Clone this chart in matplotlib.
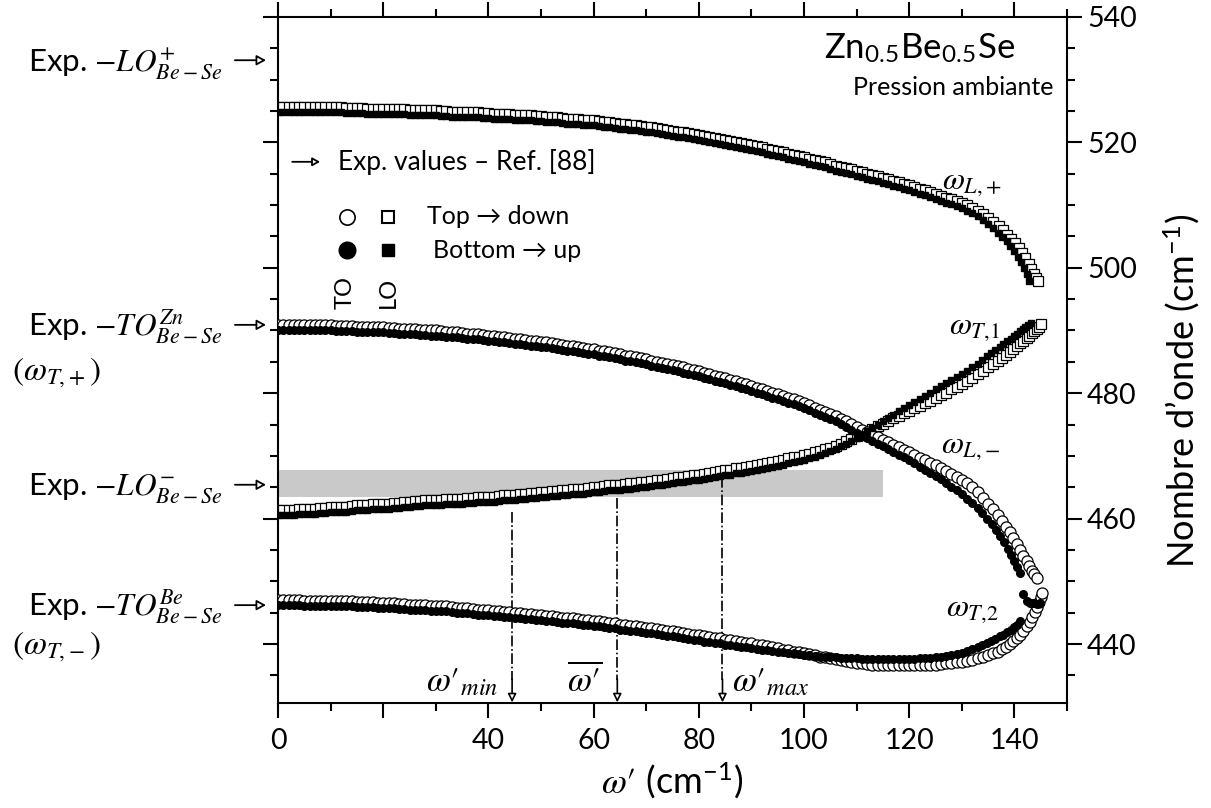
import matplotlib
matplotlib.use('Agg')
import matplotlib.pyplot as plt
from matplotlib.ticker import MultipleLocator

plt.rcParams['font.family'] = ['Lato', 'DejaVu Sans']
plt.rcParams['mathtext.fontset'] = 'stix'

# x positions (omega', cm-1) shared by the body of every branch
w_grid = [0, 1, 2, 3, 4, 5, 6, 7, 8, 9,
          10, 11, 12, 13, 14, 15, 16, 17, 18, 19,
          20, 21, 22, 23, 24, 25, 26, 27, 28, 29,
          30, 31, 32, 33, 34, 35, 36, 37, 38, 39,
          40, 41, 42, 43, 44, 45, 46, 47, 48, 49,
          50, 51, 52, 53, 54, 55, 56, 57, 58, 59,
          60, 61, 62, 63, 64, 65, 66, 67, 68, 69,
          70, 71, 72, 73, 74, 75, 76, 77, 78, 79,
          80, 81, 82, 83, 84, 85, 86, 87, 88, 89,
          90, 91, 92, 93, 94, 95, 96, 97, 98, 99,
          100, 101, 102, 103, 104, 105, 106, 107, 108, 109,
          110, 111, 112, 113, 114, 115, 116, 117, 118, 119,
          120, 121, 122, 123, 124, 125, 126, 127, 128, 129,
          130]

# LO+ branch (squares)
lo_plus_open = [525.6, 525.6, 525.6, 525.6, 525.6, 525.6, 525.6, 525.6, 525.6, 525.6,
                525.6, 525.6, 525.6, 525.5, 525.5, 525.5, 525.5, 525.4, 525.4, 525.4,
                525.4, 525.3, 525.3, 525.3, 525.3, 525.2, 525.2, 525.1, 525.1, 525.1,
                525.1, 525.0, 525.0, 524.9, 524.9, 524.9, 524.9, 524.8, 524.8, 524.7,
                524.7, 524.6, 524.6, 524.5, 524.5, 524.4, 524.4, 524.3, 524.3, 524.2,
                524.2, 524.1, 524.0, 524.0, 523.9, 523.8, 523.8, 523.7, 523.6, 523.5,
                523.5, 523.4, 523.3, 523.2, 523.1, 523.0, 522.9, 522.8, 522.7, 522.6,
                522.5, 522.4, 522.3, 522.1, 522.0, 521.8, 521.7, 521.6, 521.5, 521.3,
                521.2, 521.0, 520.9, 520.7, 520.6, 520.4, 520.2, 520.1, 519.9, 519.7,
                519.6, 519.4, 519.2, 519.0, 518.8, 518.6, 518.4, 518.2, 518.0, 517.8,
                517.6, 517.4, 517.2, 517.0, 516.8, 516.5, 516.3, 516.1, 515.9, 515.7,
                515.5, 515.2, 515.0, 514.8, 514.6, 514.3, 514.1, 513.9, 513.7, 513.4,
                513.2, 512.9, 512.6, 512.4, 512.1, 511.8, 511.5, 511.2, 510.9, 510.6,
                510.3]
lo_plus_fill = [524.8, 524.8, 524.8, 524.8, 524.8, 524.8, 524.8, 524.8, 524.8, 524.8,
                524.8, 524.8, 524.8, 524.7, 524.7, 524.7, 524.7, 524.6, 524.6, 524.6,
                524.6, 524.5, 524.5, 524.5, 524.5, 524.4, 524.4, 524.3, 524.3, 524.3,
                524.3, 524.2, 524.2, 524.1, 524.1, 524.1, 524.1, 524.0, 524.0, 523.9,
                523.9, 523.8, 523.8, 523.7, 523.7, 523.6, 523.6, 523.5, 523.5, 523.4,
                523.4, 523.3, 523.2, 523.2, 523.1, 523.0, 523.0, 522.9, 522.8, 522.7,
                522.7, 522.6, 522.5, 522.4, 522.3, 522.2, 522.1, 522.0, 521.9, 521.8,
                521.7, 521.6, 521.5, 521.3, 521.2, 521.0, 520.9, 520.8, 520.7, 520.5,
                520.4, 520.2, 520.1, 519.9, 519.8, 519.6, 519.4, 519.3, 519.1, 518.9,
                518.8, 518.6, 518.4, 518.2, 518.0, 517.8, 517.6, 517.4, 517.2, 517.0,
                516.8, 516.6, 516.4, 516.2, 516.0, 515.7, 515.5, 515.3, 515.1, 514.9,
                514.7, 514.4, 514.2, 514.0, 513.8, 513.5, 513.3, 513.1, 512.9, 512.6,
                512.4, 512.1, 511.8, 511.6, 511.3, 511.0, 510.7, 510.4, 510.1, 509.8,
                509.5]
lo_plus_open_tx = [131, 132, 133, 134, 135, 136, 137, 137.8, 138.6, 139.4, 140.1, 140.8,
                   141.5, 142.1, 142.7, 143.2, 143.7, 144.1, 144.5]
lo_plus_open_ty = [510.0, 509.6, 509.1, 508.6, 508.0, 507.3, 506.6, 506.0, 505.3, 504.6, 503.9, 503.1,
                   502.3, 501.5, 500.6, 499.8, 499.0, 498.4, 497.9]
lo_plus_fill_tx = [131, 132, 133, 134, 135, 136, 136.9, 137.7, 138.5, 139.2, 139.9, 140.6,
                   141.2, 141.8, 142.3, 142.8]
lo_plus_fill_ty = [509.1, 508.7, 508.2, 507.6, 507.0, 506.3, 505.6, 504.9, 504.2, 503.4, 502.6, 501.8,
                   500.9, 500.0, 499.0, 497.9]

# TO+ branch (circles), 491 -> 450
to_plus_open = [490.9, 490.9, 490.9, 490.9, 490.9, 490.8, 490.8, 490.8, 490.8, 490.8,
                490.8, 490.7, 490.7, 490.7, 490.7, 490.6, 490.6, 490.6, 490.6, 490.5,
                490.5, 490.4, 490.4, 490.3, 490.3, 490.2, 490.2, 490.1, 490.1, 490.0,
                490.0, 489.9, 489.8, 489.7, 489.7, 489.6, 489.5, 489.4, 489.4, 489.3,
                489.2, 489.1, 489.0, 488.9, 488.8, 488.7, 488.6, 488.5, 488.4, 488.3,
                488.2, 488.1, 488.0, 487.8, 487.7, 487.6, 487.5, 487.3, 487.2, 487.1,
                487.0, 486.8, 486.7, 486.5, 486.4, 486.2, 486.0, 485.9, 485.7, 485.6,
                485.4, 485.2, 485.0, 484.8, 484.6, 484.5, 484.3, 484.1, 483.9, 483.7,
                483.5, 483.3, 483.0, 482.8, 482.6, 482.4, 482.1, 481.9, 481.7, 481.4,
                481.2, 480.9, 480.6, 480.4, 480.1, 479.8, 479.5, 479.3, 479.0, 478.7,
                478.4, 478.1, 477.7, 477.4, 477.0, 476.7, 476.3, 475.9, 475.5, 475.1,
                474.6, 474.2, 473.8, 473.4, 473.0, 472.6, 472.2, 471.8, 471.4, 471.0,
                470.6, 470.2, 469.7, 469.3, 468.9, 468.5, 468.0, 467.6, 467.1, 466.6,
                466.1]
to_plus_fill = [490.1, 490.1, 490.1, 490.1, 490.1, 490.0, 490.0, 490.0, 490.0, 490.0,
                490.0, 489.9, 489.9, 489.9, 489.9, 489.8, 489.8, 489.8, 489.8, 489.7,
                489.7, 489.6, 489.6, 489.5, 489.5, 489.4, 489.4, 489.3, 489.3, 489.2,
                489.2, 489.1, 489.0, 488.9, 488.9, 488.8, 488.7, 488.6, 488.6, 488.5,
                488.4, 488.3, 488.2, 488.1, 488.0, 487.9, 487.8, 487.7, 487.6, 487.5,
                487.4, 487.3, 487.2, 487.0, 486.9, 486.8, 486.7, 486.5, 486.4, 486.3,
                486.2, 486.0, 485.9, 485.7, 485.6, 485.4, 485.2, 485.1, 484.9, 484.8,
                484.6, 484.4, 484.2, 484.0, 483.8, 483.7, 483.5, 483.3, 483.1, 482.9,
                482.7, 482.5, 482.2, 482.0, 481.8, 481.6, 481.3, 481.1, 480.9, 480.6,
                480.4, 480.1, 479.8, 479.6, 479.3, 479.0, 478.7, 478.5, 478.2, 477.9,
                477.6, 477.3, 476.9, 476.6, 476.2, 475.9, 475.5, 475.1, 474.6, 474.2,
                473.7, 473.3, 472.8, 472.3, 471.9, 471.5, 471.1, 470.7, 470.2, 469.8,
                469.3, 468.8, 468.3, 467.8, 467.3, 466.8, 466.3, 465.7, 465.1, 464.5,
                463.9]
to_plus_open_tx = [131, 132, 133, 134, 135, 135.9, 136.8, 137.6, 138.4, 139.1, 139.8, 140.5,
                   141.1, 141.7, 142.3, 142.8, 143.3, 143.8, 144.2]
to_plus_open_ty = [465.6, 465.0, 464.2, 463.3, 462.4, 461.5, 460.6, 459.6, 458.7, 457.8, 456.9, 455.9,
                   455.0, 454.1, 453.2, 452.4, 451.7, 451.1, 450.6]
to_plus_fill_tx = [131, 132, 133, 133.9, 134.8, 135.7, 136.5, 137.3, 138.0, 138.7, 139.3, 139.9,
                   140.5, 141.0]
to_plus_fill_ty = [463.2, 462.5, 461.7, 460.9, 460.0, 459.1, 458.2, 457.2, 456.2, 455.2, 454.2, 453.2,
                   452.3, 451.4]

# LO- branch (squares), 461 -> 491
lo_minus_open = [461.3, 461.3, 461.4, 461.4, 461.5, 461.5, 461.6, 461.6, 461.7, 461.7,
                 461.8, 461.8, 461.9, 461.9, 462.0, 462.1, 462.2, 462.2, 462.3, 462.3,
                 462.4, 462.4, 462.5, 462.5, 462.6, 462.7, 462.8, 462.8, 462.9, 462.9,
                 463.0, 463.0, 463.1, 463.1, 463.2, 463.2, 463.3, 463.3, 463.4, 463.4,
                 463.5, 463.5, 463.6, 463.7, 463.8, 463.8, 463.9, 464.0, 464.1, 464.1,
                 464.2, 464.3, 464.4, 464.4, 464.5, 464.6, 464.7, 464.7, 464.8, 464.9,
                 465.0, 465.1, 465.2, 465.3, 465.4, 465.4, 465.5, 465.6, 465.7, 465.8,
                 465.9, 466.0, 466.1, 466.2, 466.3, 466.4, 466.6, 466.7, 466.8, 466.9,
                 467.0, 467.1, 467.3, 467.4, 467.6, 467.7, 467.8, 468.0, 468.1, 468.3,
                 468.4, 468.5, 468.7, 468.9, 469.1, 469.2, 469.4, 469.6, 469.8, 469.9,
                 470.1, 470.3, 470.6, 470.8, 471.1, 471.3, 471.6, 471.9, 472.3, 472.7,
                 473.1, 473.4, 473.8, 474.3, 474.7, 475.1, 475.5, 476.0, 476.4, 476.8,
                 477.2, 477.6, 478.0, 478.4, 478.8, 479.2, 479.7, 480.1, 480.6, 481.0,
                 481.5]
lo_minus_fill = [460.5, 460.5, 460.6, 460.6, 460.7, 460.7, 460.8, 460.8, 460.9, 460.9,
                 461.0, 461.0, 461.1, 461.1, 461.2, 461.3, 461.4, 461.4, 461.5, 461.5,
                 461.6, 461.6, 461.7, 461.7, 461.8, 461.9, 462.0, 462.0, 462.1, 462.1,
                 462.2, 462.2, 462.3, 462.3, 462.4, 462.4, 462.5, 462.5, 462.6, 462.6,
                 462.7, 462.7, 462.8, 462.9, 463.0, 463.0, 463.1, 463.2, 463.3, 463.3,
                 463.4, 463.5, 463.6, 463.6, 463.7, 463.8, 463.9, 463.9, 464.0, 464.1,
                 464.2, 464.3, 464.4, 464.5, 464.6, 464.6, 464.7, 464.8, 464.9, 465.0,
                 465.1, 465.2, 465.3, 465.4, 465.5, 465.6, 465.8, 465.9, 466.0, 466.1,
                 466.2, 466.3, 466.5, 466.6, 466.8, 466.9, 467.0, 467.2, 467.3, 467.5,
                 467.6, 467.7, 467.9, 468.1, 468.3, 468.4, 468.6, 468.8, 469.0, 469.2,
                 469.4, 469.6, 469.9, 470.2, 470.5, 470.8, 471.1, 471.5, 471.9, 472.4,
                 472.9, 473.4, 473.9, 474.5, 475.0, 475.5, 476.0, 476.6, 477.1, 477.6,
                 478.1, 478.6, 479.1, 479.6, 480.1, 480.6, 481.1, 481.6, 482.1, 482.6,
                 483.0]
lo_minus_open_tx = [131, 132, 133, 134, 135, 135.9, 136.8, 137.6, 138.4, 139.1, 139.8, 140.5,
                    141.1, 141.7, 142.3, 142.8, 143.3, 143.8, 144.3, 144.7, 145.1]
lo_minus_open_ty = [482.0, 482.5, 483.1, 483.6, 484.1, 484.6, 485.1, 485.6, 486.1, 486.6, 487.1, 487.6,
                    488.0, 488.4, 488.8, 489.2, 489.6, 489.9, 490.3, 490.6, 491.0]
lo_minus_fill_tx = [131, 132, 133, 133.9, 134.8, 135.6, 136.4, 137.2, 137.9, 138.6, 139.3, 139.9,
                    140.5, 141.1, 141.6, 142.1, 142.6, 143.1]
lo_minus_fill_ty = [483.5, 484.1, 484.7, 485.3, 485.9, 486.4, 486.9, 487.4, 487.9, 488.3, 488.7, 489.1,
                    489.5, 489.9, 490.2, 490.6, 490.9, 491.2]

# TO- branch (circles), 447 -> 437 -> 448
to_minus_open = [447.0, 447.0, 447.0, 447.0, 447.0, 446.9, 446.9, 446.9, 446.9, 446.9,
                 446.9, 446.8, 446.8, 446.8, 446.8, 446.7, 446.7, 446.7, 446.7, 446.6,
                 446.6, 446.5, 446.5, 446.4, 446.4, 446.3, 446.3, 446.2, 446.2, 446.1,
                 446.1, 446.0, 446.0, 445.9, 445.8, 445.7, 445.7, 445.6, 445.5, 445.4,
                 445.4, 445.3, 445.2, 445.1, 445.1, 445.0, 444.9, 444.8, 444.8, 444.7,
                 444.6, 444.5, 444.4, 444.3, 444.2, 444.2, 444.1, 444.0, 443.9, 443.8,
                 443.7, 443.6, 443.5, 443.4, 443.3, 443.1, 443.0, 442.9, 442.8, 442.7,
                 442.6, 442.5, 442.4, 442.2, 442.1, 442.0, 441.9, 441.7, 441.6, 441.5,
                 441.4, 441.2, 441.1, 441.0, 440.9, 440.7, 440.7, 440.5, 440.4, 440.2,
                 440.1, 439.9, 439.8, 439.7, 439.6, 439.3, 439.1, 439.0, 438.8, 438.7,
                 438.6, 438.4, 438.2, 438.0, 437.9, 437.7, 437.6, 437.4, 437.3, 437.1,
                 437.0, 436.9, 436.8, 436.7, 436.7, 436.6, 436.6, 436.6, 436.6, 436.6,
                 436.6, 436.6, 436.6, 436.6, 436.7, 436.7, 436.8, 436.9, 437.0, 437.1,
                 437.2]
to_minus_fill = [446.2, 446.2, 446.2, 446.2, 446.2, 446.1, 446.1, 446.1, 446.1, 446.1,
                 446.1, 446.0, 446.0, 446.0, 446.0, 445.9, 445.9, 445.9, 445.9, 445.8,
                 445.8, 445.7, 445.7, 445.6, 445.6, 445.5, 445.5, 445.4, 445.4, 445.3,
                 445.3, 445.2, 445.2, 445.1, 445.0, 444.9, 444.9, 444.8, 444.7, 444.6,
                 444.6, 444.5, 444.4, 444.3, 444.3, 444.2, 444.1, 444.0, 444.0, 443.9,
                 443.8, 443.7, 443.6, 443.5, 443.4, 443.4, 443.3, 443.2, 443.1, 443.0,
                 442.9, 442.8, 442.7, 442.6, 442.5, 442.3, 442.2, 442.1, 442.0, 441.9,
                 441.8, 441.7, 441.6, 441.4, 441.3, 441.2, 441.1, 440.9, 440.8, 440.7,
                 440.6, 440.4, 440.3, 440.2, 440.1, 439.9, 439.8, 439.7, 439.6, 439.5,
                 439.4, 439.2, 439.1, 439.0, 438.9, 438.8, 438.7, 438.6, 438.5, 438.4,
                 438.3, 438.2, 438.1, 438.0, 438.0, 437.9, 437.9, 437.8, 437.8, 437.7,
                 437.7, 437.6, 437.6, 437.6, 437.6, 437.6, 437.6, 437.6, 437.6, 437.6,
                 437.6, 437.6, 437.7, 437.7, 437.8, 437.9, 438.0, 438.1, 438.3, 438.4,
                 438.6]
to_minus_open_tx = [131, 132, 133, 134, 135, 135.9, 136.8, 137.6, 138.4, 139.1, 139.8, 140.5,
                    141.1, 141.7, 142.3, 142.9, 143.4, 143.9, 144.3, 144.7, 145.0, 145.2]
to_minus_open_ty = [437.3, 437.5, 437.7, 437.9, 438.2, 438.5, 438.8, 439.2, 439.6, 440.0, 440.5, 441.0,
                    441.5, 442.1, 442.8, 443.5, 444.3, 445.1, 445.9, 446.7, 447.5, 448.2]
to_minus_fill_tx = [131, 132, 133, 133.9, 134.8, 135.6, 136.4, 137.2, 137.9, 138.6, 139.3, 139.9,
                    140.5, 141.0, 141.7, 142.3, 143.0, 143.6, 144.2, 144.8]
to_minus_fill_ty = [438.9, 439.2, 439.5, 439.8, 440.2, 440.5, 440.8, 441.2, 441.5, 441.9, 442.3, 442.7,
                    443.1, 443.6, 447.9, 446.9, 446.5, 446.6, 446.4, 446.6]

# experimental reference values (left side arrows)
exp_levels = [533.1, 490.9, 465.4, 446.2]
exp_labels = [r'Exp. $-LO^{+}_{Be-Se}$', r'Exp. $-TO^{Zn}_{Be-Se}$',
              r'Exp. $-LO^{-}_{Be-Se}$', r'Exp. $-TO^{Be}_{Be-Se}$']
exp_sub_levels = [483.2, 439.5]
exp_sub_labels = [r'$(\omega_{T,\!+})$', r'$(\omega_{T,\!-})$']

# omega' markers and grey band
mark_x = [44.5, 64.5, 84.5]
mark_top = [461.0, 463.3, 466.6]
band_x = [0, 115]
band_y = [463.4, 467.8]

fig = plt.figure(figsize=(12.11, 8.08), dpi=100)
ax = fig.add_axes([0.2296, 0.130, 0.6515, 0.849])

ax.fill_between(band_x, band_y[0], band_y[1], color='#c9c9c9', lw=0, zorder=1)

open_sq = dict(ls='none', marker='s', ms=6.5, mfc='white', mec='black', mew=0.9, zorder=3)
fill_sq = dict(ls='none', marker='s', ms=4.8, color='black', zorder=4)
open_ci = dict(ls='none', marker='o', ms=8, mfc='white', mec='black', mew=0.9, zorder=3)
fill_ci = dict(ls='none', marker='o', ms=5.5, color='black', zorder=4)

ax.plot(w_grid + lo_plus_open_tx, lo_plus_open + lo_plus_open_ty, **open_sq)
ax.plot(w_grid + lo_plus_fill_tx, lo_plus_fill + lo_plus_fill_ty, **fill_sq)
ax.plot(w_grid + lo_minus_open_tx, lo_minus_open + lo_minus_open_ty, **open_sq)
ax.plot(w_grid + lo_minus_fill_tx, lo_minus_fill + lo_minus_fill_ty, **fill_sq)
ax.plot(w_grid + to_plus_open_tx, to_plus_open + to_plus_open_ty, **open_ci)
ax.plot(w_grid + to_plus_fill_tx, to_plus_fill + to_plus_fill_ty, **fill_ci)
ax.plot(w_grid + to_minus_open_tx, to_minus_open + to_minus_open_ty, **open_ci)
ax.plot(w_grid + to_minus_fill_tx, to_minus_fill + to_minus_fill_ty, **fill_ci)

# dash-dot markers of omega'_min, mean, max
for x, top in zip(mark_x, mark_top):
    ax.plot([x, x], [top, 434.3], ls='-.', color='black', lw=1.2, zorder=2)
    ax.annotate('', xy=(x, 430.7), xytext=(x, 434.4),
                arrowprops=dict(arrowstyle='-|>,head_length=0.5,head_width=0.25',
                                fc='white', ec='black', lw=1.2, shrinkA=0, shrinkB=0))
ax.text(41.8, 432.5, '$\\omega\u2032_{min}$', fontsize=25, ha='right', va='baseline')
ax.text(58.4, 432.5, '$\\overline{\\omega\u2032}$', fontsize=25, ha='center', va='baseline')
ax.text(86.3, 432.5, '$\\omega\u2032_{max}$', fontsize=25, ha='left', va='baseline')

# left annotations
for y, lab in zip(exp_levels, exp_labels):
    ax.text(-10.6, y - 1.6, lab, fontsize=22.5, ha='right', va='baseline', clip_on=False)
    ax.annotate('', xy=(-2.3, y), xytext=(-8.2, y), annotation_clip=False,
                arrowprops=dict(arrowstyle='-|>,head_length=0.55,head_width=0.3',
                                fc='white', ec='black', lw=1.3, shrinkA=0, shrinkB=0))
for y, lab in zip(exp_sub_levels, exp_sub_labels):
    ax.text(-50.6, y, lab, fontsize=24, ha='left', va='center', clip_on=False)

# branch labels
ax.text(132, 513.5, r'$\omega_{L,\!+}$', fontsize=23, ha='center', va='center')
ax.text(132.5, 490.4, r'$\omega_{T,\!1}$', fontsize=23, ha='center', va='center')
ax.text(131.7, 471.4, r'$\omega_{L,\!-}$', fontsize=23, ha='center', va='center')
ax.text(132, 445.4, r'$\omega_{T,\!2}$', fontsize=23, ha='center', va='center')

# sample / conditions
ax.text(140.1, 535, r'Zn$_{\mathregular{0.5}}$Be$_{\mathregular{0.5}}$Se', fontsize=25, ha='right', va='center')
ax.text(147.4, 528.7, 'Pression ambiante', fontsize=18, ha='right', va='center')

# legend drawn by hand
ax.annotate('', xy=(8.0, 516.9), xytext=(2.7, 516.9),
            arrowprops=dict(arrowstyle='-|>,head_length=0.45,head_width=0.25',
                            fc='white', ec='black', lw=1.3, shrinkA=0, shrinkB=0))
ax.text(11.4, 516.9, 'Exp. values \u2013 Ref. [88]', fontsize=19, ha='left', va='center')
ax.plot([13.1], [508.1], ls='none', marker='o', ms=11, mfc='white', mec='black', mew=1.2)
ax.plot([20.9], [508.1], ls='none', marker='s', ms=8, mfc='white', mec='black', mew=1.5)
ax.plot([13.1], [502.8], ls='none', marker='o', ms=12, color='black')
ax.plot([20.9], [502.8], ls='none', marker='s', ms=8.5, color='black')
ax.text(28.3, 508.1, 'Top \u2192 down', fontsize=18, ha='left', va='center')
ax.text(29.5, 502.8, 'Bottom \u2192 up', fontsize=18, ha='left', va='center')
ax.text(12.7, 496.0, 'TO', fontsize=17, rotation=90, ha='center', va='center')
ax.text(20.9, 496.0, 'LO', fontsize=17, rotation=90, ha='center', va='center')

# axes
ax.set_xlim(0, 150)
ax.set_ylim(430.6, 540)
ax.set_xticks([0, 20, 40, 60, 80, 100, 120, 140])
ax.set_xticklabels(['0', '', '40', '60', '80', '100', '120', '140'])
ax.xaxis.set_minor_locator(MultipleLocator(10))
ax.set_yticks([440, 460, 480, 500, 520, 540])
ax.yaxis.set_minor_locator(MultipleLocator(5))
ax.tick_params(axis='both', which='major', direction='out', length=11, width=1.5, labelsize=20.5)
ax.tick_params(axis='both', which='minor', direction='out', length=6, width=1.5)
ax.tick_params(axis='x', which='both', top=True, labeltop=False, pad=7)
ax.tick_params(axis='y', which='both', left=True, right=True, labelleft=False, labelright=True)
for sp in ax.spines.values():
    sp.set_linewidth(1.5)

ax.set_xlabel('$\\omega\u2032$ (cm$^{\\mathregular{-1}}$)', fontsize=26)
ax.xaxis.set_label_coords(0.4994, -0.112)
ax.xaxis.label.set_va('center')
ax.yaxis.set_label_position('right')
ax.set_ylabel('Nombre d\u2019onde (cm$^{\\mathregular{-1}}$)', fontsize=26)
ax.yaxis.set_label_coords(1.145, 0.455)
ax.yaxis.label.set_va('center')
ax.yaxis.label.set_ha('center')

fig.savefig('out.png', dpi=100)
